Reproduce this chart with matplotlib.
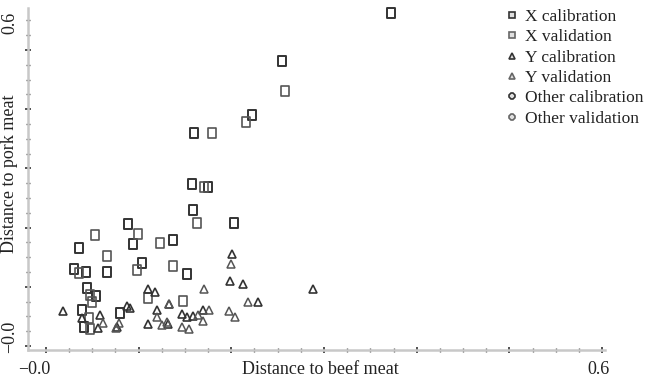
import matplotlib
matplotlib.use("Agg")
import matplotlib.pyplot as plt
import numpy as np
from matplotlib.path import Path
from matplotlib.lines import Line2D

# ---- data ----
x_cal_x = [0.372, 0.255, 0.222, 0.160, 0.158, 0.175, 0.159, 0.203, 0.137, 0.152,
           0.036, 0.088, 0.094, 0.066, 0.030, 0.043, 0.104, 0.044, 0.054, 0.039, 0.041, 0.080]
x_cal_y = [0.563, 0.481, 0.390, 0.360, 0.274, 0.269, 0.230, 0.208, 0.179, 0.122,
           0.166, 0.206, 0.172, 0.125, 0.130, 0.125, 0.140, 0.098, 0.084, 0.061, 0.032, 0.056]
x_val_x = [0.258, 0.216, 0.179, 0.170, 0.163, 0.137, 0.148, 0.053, 0.099, 0.123,
           0.066, 0.036, 0.098, 0.047, 0.050, 0.110, 0.046, 0.047]
x_val_y = [0.431, 0.378, 0.360, 0.269, 0.208, 0.135, 0.076, 0.1875, 0.189, 0.174,
           0.152, 0.123, 0.128, 0.086, 0.074, 0.081, 0.047, 0.029]

y_cal_x = [0.018, 0.039, 0.058, 0.056, 0.077, 0.087, 0.091, 0.110, 0.118, 0.110,
           0.120, 0.133, 0.132, 0.147, 0.152, 0.159, 0.169, 0.201, 0.199, 0.213, 0.229, 0.288]
y_cal_y = [0.059, 0.047, 0.052, 0.030, 0.032, 0.068, 0.064, 0.096, 0.091, 0.037,
           0.061, 0.071, 0.037, 0.054, 0.049, 0.051, 0.060, 0.155, 0.110, 0.105, 0.074, 0.096]
y_val_x = [0.061, 0.076, 0.079, 0.120, 0.125, 0.133, 0.131, 0.147, 0.164, 0.169,
           0.176, 0.170, 0.200, 0.197, 0.218, 0.204, 0.154]
y_val_y = [0.039, 0.031, 0.039, 0.049, 0.035, 0.071, 0.041, 0.032, 0.052, 0.042,
           0.061, 0.097, 0.138, 0.059, 0.074, 0.049, 0.029]

other_cal_x, other_cal_y = [], []
other_val_x, other_val_y = [], []

labels = ["X calibration", "X validation", "Y calibration", "Y validation",
          "Other calibration", "Other validation"]
x_label = "Distance to beef meat"
y_label = "Distance to pork meat"
end_labels = ["\u22120.0", "0.6"]

plt.rcParams['font.family'] = ['Liberation Serif', 'DejaVu Serif']

fig = plt.figure(figsize=(6.45, 3.82), dpi=100)
ax = fig.add_axes([28/645, 1-350/382, (605-28)/645, (350-8)/382])

rect = Path([(-0.4, -0.5), (0.4, -0.5), (0.4, 0.5), (-0.4, 0.5), (-0.4, -0.5)],
            [Path.MOVETO, Path.LINETO, Path.LINETO, Path.LINETO, Path.CLOSEPOLY])

ec = '#333333'
ec2 = '#555555'
kw = dict(ls='none', mfc='none', clip_on=False)
ax.plot(x_cal_x, x_cal_y, marker=rect, ms=7.8, mec=ec, mew=1.4, **kw)
ax.plot(x_val_x, x_val_y, marker=rect, ms=7.8, mec=ec2, mew=1.2, **kw)
ax.plot(y_cal_x, y_cal_y, marker='^', ms=5.5, mec=ec, mew=1.2, **kw)
ax.plot(y_val_x, y_val_y, marker='^', ms=5.5, mec=ec2, mew=1.1, **kw)
ax.plot(other_cal_x, other_cal_y, marker='8', ms=5.5, mec=ec, **kw)
ax.plot(other_val_x, other_val_y, marker='8', ms=5.5, mec=ec2, **kw)

ax.set_xlim(-0.0194, 0.6032)
ax.set_ylim(-0.0068, 0.571)

for s in ['top', 'right']:
    ax.spines[s].set_visible(False)
for s in ['left', 'bottom']:
    ax.spines[s].set_color('#c8c8c8')
    ax.spines[s].set_linewidth(1.8)

ax.set_xticks(np.arange(0, 0.61, 0.1))
ax.set_xticks(np.arange(0, 0.601, 0.025), minor=True)
ax.set_yticks(np.arange(0, 0.51, 0.1))
ax.set_yticks(np.arange(0, 0.551, 0.025), minor=True)
ax.tick_params(which='major', direction='inout', length=5, width=1.2, color='#333333',
               labelbottom=False, labelleft=False)
ax.tick_params(which='minor', direction='inout', length=3, width=1.0, color='#555555')

# end labels and axis titles
fs = 13
tc = '#222222'
fig.text(34/645, 1-369/382, end_labels[0], ha='center', va='center', fontsize=fs, color=tc)
fig.text(598/645, 1-369/382, end_labels[1], ha='center', va='center', fontsize=fs, color=tc)
fig.text(10/645, 1-23/382, end_labels[1], ha='center', va='center', rotation=90, fontsize=fs, color=tc)
fig.text(10/645, 1-337/382, end_labels[0], ha='center', va='center', rotation=90, fontsize=fs, color=tc)
fig.text(320/645, 1-369/382, x_label, ha='center', va='center', fontsize=fs, color=tc)
fig.text(10/645, 1-174/382, y_label, ha='center', va='center', rotation=90, fontsize=fs, color=tc)

# legend
handles = [
    Line2D([], [], ls='none', marker='s', ms=5, mfc='#e0e0e0', mec=ec, mew=1.2),
    Line2D([], [], ls='none', marker='s', ms=5, mfc='#e0e0e0', mec='#666666', mew=1.2),
    Line2D([], [], ls='none', marker='^', ms=5, mfc='#e0e0e0', mec=ec, mew=1.2),
    Line2D([], [], ls='none', marker='^', ms=5, mfc='#e0e0e0', mec='#666666', mew=1.2),
    Line2D([], [], ls='none', marker='8', ms=5, mfc='#e0e0e0', mec=ec, mew=1.2),
    Line2D([], [], ls='none', marker='8', ms=5, mfc='#e0e0e0', mec='#666666', mew=1.2),
]
leg = fig.legend(handles, labels, loc='upper left', bbox_to_anchor=(507/645, 1-9/382),
                 frameon=False, fontsize=12.5, handlelength=0.6, handletextpad=0.45,
                 labelspacing=0.24, borderaxespad=0, borderpad=0)
for t in leg.get_texts():
    t.set_color(tc)

fig.savefig('out.png', dpi=100)
